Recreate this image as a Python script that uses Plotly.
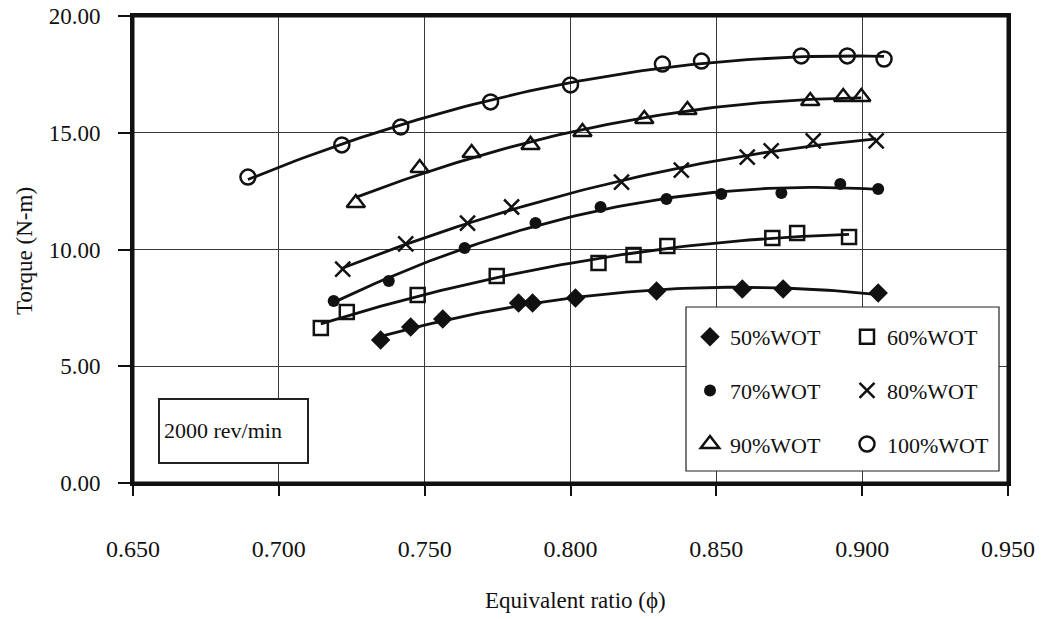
import numpy as np
import plotly.graph_objects as go

# ---- data ----
phi_50 = [0.7349, 0.7452, 0.7562, 0.7822, 0.7870, 0.8017, 0.8295, 0.8589, 0.8729, 0.9055]
tq_50 = [6.12, 6.68, 7.02, 7.71, 7.71, 7.92, 8.22, 8.31, 8.31, 8.14]

phi_60 = [0.7144, 0.7233, 0.7476, 0.7747, 0.8096, 0.8216, 0.8332, 0.8692, 0.8777, 0.8955]
tq_60 = [6.64, 7.32, 8.05, 8.87, 9.42, 9.76, 10.15, 10.49, 10.71, 10.54]

phi_70 = [0.7188, 0.7377, 0.7637, 0.7880, 0.8103, 0.8329, 0.8517, 0.8723, 0.8925, 0.9055]
tq_70 = [7.79, 8.65, 10.06, 11.13, 11.82, 12.16, 12.38, 12.42, 12.81, 12.59]

phi_80 = [0.7219, 0.7435, 0.7647, 0.7798, 0.8175, 0.8380, 0.8606, 0.8688, 0.8832, 0.9048]
tq_80 = [9.16, 10.24, 11.13, 11.82, 12.89, 13.40, 13.96, 14.22, 14.65, 14.65]

phi_90 = [0.7264, 0.7483, 0.7661, 0.7863, 0.8041, 0.8253, 0.8401, 0.8822, 0.8935, 0.8997]
tq_90 = [11.99, 13.49, 14.13, 14.48, 15.03, 15.59, 15.97, 16.36, 16.53, 16.53]

phi_100 = [0.6894, 0.7216, 0.7418, 0.7726, 0.8000, 0.8315, 0.8449, 0.8791, 0.8949, 0.9075]
tq_100 = [13.10, 14.48, 15.25, 16.32, 17.05, 17.94, 18.07, 18.29, 18.29, 18.16]

series_names = ["50%WOT", "60%WOT", "70%WOT", "80%WOT", "90%WOT", "100%WOT"]
x_ticks = [0.65, 0.70, 0.75, 0.80, 0.85, 0.90, 0.95]
x_tick_labels = ["0.650", "0.700", "0.750", "0.800", "0.850", "0.900", "0.950"]
y_ticks = [0, 5, 10, 15, 20]
y_tick_labels = ["0.00", "5.00", "10.00", "15.00", "20.00"]
speed_label = "2000 rev/min"

# ---- style ----
FONT = "Liberation Serif, Times New Roman, serif"
INK = "#111111"
series = [
    (phi_50, tq_50, dict(symbol="diamond", size=15, color=INK), "legend"),
    (phi_60, tq_60, dict(symbol="square-open", size=14, color=INK, line=dict(width=2.5)), "legend2"),
    (phi_70, tq_70, dict(symbol="circle", size=12, color=INK), "legend"),
    (phi_80, tq_80, dict(symbol="x-thin-open", size=15, color=INK, line=dict(width=2.5, color=INK)), "legend2"),
    (phi_90, tq_90, dict(symbol="triangle-up-open", size=16, color=INK, line=dict(width=2.5)), "legend"),
    (phi_100, tq_100, dict(symbol="circle-open", size=15, color=INK, line=dict(width=2.5)), "legend2"),
]

fig = go.Figure()

# trend lines (2nd-order polynomial fit of each series)
for (xs, ys, mk, lg), name in zip(series, series_names):
    coef = np.polyfit(xs, ys, 2)
    xf = np.linspace(min(xs), max(xs), 80)
    fig.add_trace(go.Scatter(x=xf, y=np.polyval(coef, xf), mode="lines",
                             line=dict(color=INK, width=2.8),
                             showlegend=False, hoverinfo="skip"))

for (xs, ys, mk, lg), name in zip(series, series_names):
    fig.add_trace(go.Scatter(x=xs, y=ys, mode="markers", name=name, marker=mk,
                             legend=lg, legendgroup=name))

W, H = 1051, 619
L, R, T, B = 133, 1008, 16, 483
pw, ph = R - L, B - T


def px(xp):
    return (xp - L) / pw


def py(yp):
    return (B - yp) / ph


legend_common = dict(font=dict(family=FONT, size=22, color=INK),
                     bgcolor="rgba(0,0,0,0)", borderwidth=0,
                     tracegroupgap=22, itemsizing="trace",
                     xanchor="left", yanchor="top", orientation="v")

axis_common = dict(showgrid=True, gridcolor="#3a3a3a", gridwidth=1,
                   showline=True, linecolor=INK, linewidth=3, mirror=True,
                   ticks="outside", tickwidth=1.5, tickcolor=INK,
                   zeroline=False, automargin=False, ticklabeloverflow="allow")

fig.update_layout(
    template="none",
    width=W, height=H,
    margin=dict(l=L, r=W - R, t=T, b=H - B, pad=0),
    paper_bgcolor="white", plot_bgcolor="white",
    font=dict(family=FONT, size=23, color=INK),
    hovermode=False,
    legend=dict(x=px(690), y=py(316), **legend_common),
    legend2=dict(x=px(847), y=py(316), **legend_common),
    xaxis=dict(range=[0.65, 0.95], tickvals=x_ticks, ticktext=x_tick_labels,
               ticklen=10, ticklabelstandoff=32,
               tickfont=dict(family=FONT, size=24, color=INK), **axis_common),
    yaxis=dict(range=[0, 20], tickvals=y_ticks, ticktext=y_tick_labels,
               ticklen=12, ticklabelstandoff=13,
               tickfont=dict(family=FONT, size=23, color=INK), **axis_common),
    shapes=[
        # plot frame
        dict(type="rect", xref="paper", yref="paper", x0=0, x1=1, y0=0, y1=1,
             fillcolor="rgba(0,0,0,0)", line=dict(color=INK, width=3), layer="above"),
        # legend box
        dict(type="rect", xref="paper", yref="paper",
             x0=px(686), x1=px(999), y0=py(471), y1=py(307),
             fillcolor="white", line=dict(color="#222222", width=1.2), layer="above"),
        # engine speed box
        dict(type="rect", xref="paper", yref="paper",
             x0=px(159), x1=px(308), y0=py(463), y1=py(399),
             fillcolor="white", line=dict(color="#222222", width=2), layer="above"),
    ],
    annotations=[
        dict(text=speed_label, xref="paper", yref="paper", x=px(162), y=py(430),
             xanchor="left", yanchor="middle", showarrow=False,
             font=dict(family=FONT, size=22, color=INK)),
        dict(text="Torque (N-m)", xref="paper", yref="paper", x=px(24), y=py(251),
             xanchor="center", yanchor="middle", textangle=-90, showarrow=False,
             font=dict(family=FONT, size=23, color=INK)),
        dict(text="Equivalent ratio (ϕ)", xref="paper", yref="paper", x=px(575), y=py(600),
             xanchor="center", yanchor="middle", showarrow=False,
             font=dict(family=FONT, size=23, color=INK)),
    ],
)

# remove the browser's default 8px page margin so the figure sits at the window's corner
fig.write_html("out.html", config={"displayModeBar": False},
               post_script="document.body.style.margin='0';document.documentElement.style.overflow='hidden';")
